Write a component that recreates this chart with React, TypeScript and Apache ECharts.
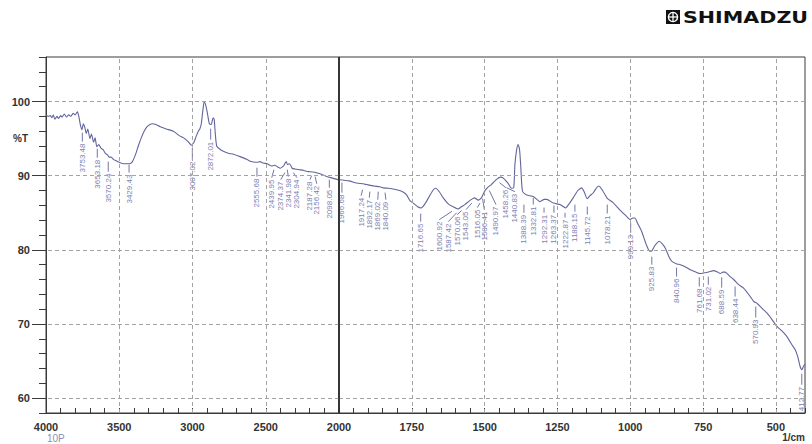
import React, { useEffect, useRef } from "react";
import * as echarts from "echarts";

// Spectrum (wavenumber in 1/cm, %T)
const wavenumbers = [
  4000, 3985, 3970, 3960, 3950, 3940, 3925, 3915, 3900, 3890, 3875, 3860, 3845, 3830, 3815, 3800, 3786, 3775, 3765, 3755,
  3745, 3735, 3725, 3715, 3700, 3690, 3675, 3665, 3653, 3640, 3625, 3610, 3595, 3580, 3570, 3555, 3540, 3520, 3500, 3470,
  3440, 3430, 3410, 3390, 3370, 3350, 3330, 3310, 3290, 3275, 3250, 3220, 3180, 3130, 3090, 3060, 3030, 3007, 2990, 2975,
  2960, 2950, 2940, 2930, 2920, 2910, 2900, 2885, 2872, 2860, 2852, 2845, 2835, 2815, 2790, 2750, 2720, 2680, 2630, 2600,
  2560, 2540, 2517, 2490, 2460, 2440, 2420, 2400, 2385, 2375, 2368, 2360, 2352, 2340, 2330, 2320, 2300, 2270, 2240, 2210,
  2180, 2154, 2120, 2085, 2050, 2013, 2000,
  1966, 1940, 1917, 1905, 1880, 1860, 1848, 1830, 1802, 1780, 1768, 1756, 1745, 1730, 1718, 1705, 1690, 1676, 1668, 1655,
  1642, 1625, 1608, 1591, 1580, 1568, 1555, 1545, 1535, 1522, 1511, 1500, 1490, 1477, 1459, 1445, 1437, 1420, 1408, 1400,
  1396, 1390, 1385, 1380, 1376, 1370, 1356, 1333, 1310, 1295, 1287, 1264, 1241, 1222, 1210, 1196, 1180, 1167, 1158, 1148,
  1138, 1127, 1115, 1108, 1095, 1078, 1060, 1036, 1015, 1001, 990, 984, 975, 961, 945, 933, 925, 915, 900, 890,
  880, 865, 857, 840, 828, 810, 794, 775, 760, 745, 731, 714, 700, 691, 682, 674, 660, 645, 628, 610,
  588, 575, 565, 555, 531, 515, 497, 480, 462, 445, 434, 425, 417, 411, 405, 400,
];
const transmittance = [
  98.2, 98.0, 98.1, 97.8, 98.2, 97.6, 98.0, 97.7, 98.1, 97.9, 98.3, 97.9, 98.2, 98.0, 98.4, 98.2, 98.6, 97.9, 96.8, 96.2,
  97.0, 96.5, 95.7, 96.3, 95.0, 95.6, 94.5, 95.1, 93.9, 94.2, 93.7, 93.5, 93.0, 92.8, 92.5, 92.5, 92.2, 92.0, 91.8, 91.6,
  91.6, 91.6, 91.9, 92.8, 94.0, 95.1, 96.0, 96.6, 96.9, 97.0, 96.9, 96.6, 96.3, 96.0, 95.4, 95.1, 94.6, 94.1, 94.5, 95.3,
  96.0, 96.3, 97.0, 98.7, 100.0, 99.5, 98.6, 97.0, 96.9, 97.8, 97.6, 95.8, 94.0, 93.6, 93.3, 93.0, 92.9, 92.6, 92.2, 91.9,
  91.8, 91.9, 91.7, 91.6, 91.3, 91.4, 91.2, 91.0, 91.2, 91.4, 91.7, 91.9, 91.5, 91.6, 91.4, 91.0, 90.9, 90.8, 90.7, 90.55,
  90.5, 90.4, 90.2, 89.9, 89.7, 89.5, 89.45,
  89.3, 89.0, 88.9, 88.8, 88.6, 88.5, 88.35, 88.3, 88.1, 87.8, 87.4, 86.6, 86.3, 85.8, 85.65, 86.2, 87.2, 88.1, 88.3, 87.8,
  87.0, 86.2, 85.8, 85.5, 85.8, 86.1, 86.5, 86.8, 87.0, 86.7, 87.0, 87.9, 88.4, 88.8, 89.5, 89.8, 89.7, 89.0, 88.3, 88.4,
  91.5, 93.5, 94.2, 93.5, 91.3, 87.9, 87.4, 87.2, 86.5, 86.8, 86.8, 86.3, 86.1, 85.65, 86.2, 87.0, 88.0, 88.35, 87.8, 86.9,
  87.3, 87.7, 88.4, 88.6, 88.0, 86.9, 86.4, 85.4, 84.6, 84.1, 84.3, 84.3, 83.6, 82.5, 80.7, 79.8, 79.9, 80.6, 81.15, 80.8,
  80.25, 78.9, 78.45, 78.1, 78.0, 77.7, 77.3, 77.0, 76.8, 76.9, 77.0, 77.2, 77.0, 76.8, 77.0, 77.0, 76.5, 76.0, 75.3, 74.8,
  73.7, 73.0, 72.8, 72.4, 71.5, 70.7, 69.7, 69.1, 68.3, 67.2, 66.55, 65.6, 64.3, 63.85, 64.3, 64.6,
];

// Peak labels: text, leader start (wn, %T) and leader end / label top (wn, %T)
const peakLabels = [
  "3753.48", "3653.18", "3570.24", "3429.43", "3007.02", "2872.01", "2555.68", "2439.95", "2374.37", "2341.98",
  "2304.94", "2187.28", "2156.42", "2098.05",
  "1966.68", "1917.24", "1892.17", "1869.02", "1840.09", "1716.65", "1600.92", "1587.42", "1570.06", "1543.05",
  "1516.05", "1506.41", "1490.97", "1458.26", "1440.83", "1388.39", "1332.81", "1292.31", "1263.37", "1222.87",
  "1188.15", "1145.72", "1078.21", "999.13", "925.83", "840.96", "761.68", "731.02", "688.59", "638.44",
  "570.93", "412.77",
];
const peakFromWn = [
  3752, 3650, 3575, 3433, 3001, 2876, 2560, 2444, 2369, 2353, 2312, 2187, 2163, 2066,
  1990, 1919, 1894, 1865, 1842, 1719.5, 1612, 1596, 1579, 1544, 1516, 1507, 1484, 1449, 1425, 1365,
  1333, 1296, 1262, 1224, 1190, 1147.5, 1079, 998.5, 926, 841, 763, 732, 686, 640, 569, 411,
];
const peakFromT = [
  95.8, 93.63, 91.89, 91.48, 93.78, 96.34, 91.08, 90.81, 90.41, 90.81, 90.41, 90.0, 89.87, 89.46,
  89.06, 88.11, 87.84, 87.84, 87.71, 84.88, 85.2, 85.0, 85.3, 86.3, 86.3, 86.9, 88.0, 89.06, 88.38, 86.1,
  87.0, 85.7, 85.97, 85.0, 86.1, 85.83, 86.1, 83.7, 79.07, 77.6, 76.3, 76.4, 76.3, 75.05, 72.35, 63.3,
];
const peakToWn = [
  3752, 3650, 3575, 3433, 3001, 2876, 2560, 2459, 2398, 2346, 2287, 2198, 2152, 2066,
  1990, 1924, 1896, 1867, 1839, 1719.5, 1655.6, 1624.7, 1594, 1564, 1525, 1501, 1461, 1427, 1396, 1365,
  1333, 1296, 1262, 1224, 1190, 1147.5, 1079, 998.5, 926, 841, 763, 732, 686, 640, 569, 411,
];
const peakToT = [
  94.6, 92.42, 90.54, 90.41, 92.16, 94.85, 89.87, 89.73, 89.46, 89.87, 89.73, 89.46, 88.92, 88.38,
  87.71, 87.3, 87.03, 86.76, 86.76, 83.8, 84.07, 83.8, 84.75, 85.42, 85.7, 85.42, 86.1, 88.38, 87.84, 85.0,
  86.1, 85.0, 85.0, 84.35, 85.15, 84.75, 84.9, 82.3, 78.0, 76.4, 75.05, 75.3, 74.9, 73.7, 70.87, 61.81,
];

const xTicksLeft = [4000, 3500, 3000, 2500, 2000];
const xTicksRight = [1750, 1500, 1250, 1000, 750, 500];
const xGridLeft = [3500, 3000, 2500];
const xGridRight = [1750, 1500, 1250, 1000, 750, 500];
const yTicks = [100, 90, 80, 70, 60];

const LINE_COLOR = "#62659c";
const LABEL_COLOR = "#7d80b2";
const AXIS_COLOR = "#3a3a3a";
const GRID_COLOR = "#a3a3a3";
const FONT = "Liberation Sans";

export default function App() {
  const ref = useRef<HTMLDivElement>(null);

  useEffect(() => {
    if (!ref.current) return;
    const chart = echarts.init(ref.current, null, { renderer: "svg" });

    const leftData: number[][] = [];
    const rightData: number[][] = [];
    wavenumbers.forEach((w, i) => {
      if (w >= 2000) leftData.push([w, transmittance[i]]);
      if (w <= 2000) rightData.push([w, transmittance[i]]);
    });

    const leftIdx: number[] = [];
    const rightIdx: number[] = [];
    peakToWn.forEach((w, i) => (w >= 2000 ? leftIdx : rightIdx).push(i));
    const peakData = (idx: number[]) =>
      idx.map((i) => [peakFromWn[i], peakFromT[i], peakToWn[i], peakToT[i], i]);

    const renderPeak = (params: any, api: any) => {
      const a = api.coord([api.value(0), api.value(1)]);
      const b = api.coord([api.value(2), api.value(3)]);
      const txt = peakLabels[api.value(4)];
      return {
        type: "group",
        children: [
          {
            type: "polyline",
            shape: { points: [a, b] },
            style: { stroke: LINE_COLOR, lineWidth: 0.9, fill: null },
          },
          {
            type: "text",
            x: b[0],
            y: b[1] + 2,
            rotation: Math.PI / 2,
            style: {
              text: txt,
              align: "right",
              verticalAlign: "middle",
              fontSize: 8,
              fontFamily: FONT,
              fill: LABEL_COLOR,
            },
          },
        ],
      };
    };

    const gridTop = 57;
    const gridHeight = 356;
    const plain = (v: number) => String(v);

    const xLabel = { margin: 8, fontSize: 11, fontWeight: "bold", fontFamily: FONT, color: "#333", formatter: plain };
    const xCommon = {
      type: "value",
      inverse: true,
      axisLine: { show: true, lineStyle: { color: AXIS_COLOR, width: 1 } },
      axisTick: { show: true, inside: true, length: 5, lineStyle: { color: AXIS_COLOR } },
      splitLine: { show: false },
    };

    const gridMark = (xs: number[]) => ({
      silent: true,
      symbol: ["none", "none"],
      label: { show: false },
      animation: false,
      lineStyle: { color: GRID_COLOR, type: [4, 3], width: 1 },
      data: [...xs.map((v) => ({ xAxis: v })), ...yTicks.map((v) => ({ yAxis: v }))],
    });

    const option: any = {
      animation: false,
      grid: [
        { left: 46, top: gridTop, width: 293, height: gridHeight, show: true, borderColor: AXIS_COLOR, borderWidth: 1 },
        { left: 339, top: gridTop, width: 466, height: gridHeight, show: true, borderColor: AXIS_COLOR, borderWidth: 1 },
      ],
      xAxis: [
        {
          ...xCommon,
          gridIndex: 0,
          min: 2000,
          max: 4000,
          interval: 100,
          axisLabel: { ...xLabel, customValues: xTicksLeft },
        },
        {
          ...xCommon,
          gridIndex: 1,
          min: 400,
          max: 2000,
          interval: 50,
          axisLabel: { ...xLabel, customValues: xTicksRight },
        },
      ],
      yAxis: [
        {
          type: "value",
          gridIndex: 0,
          position: "left",
          min: 58,
          max: 106,
          interval: 2,
          axisLine: { show: true, lineStyle: { color: AXIS_COLOR } },
          axisTick: { show: true, inside: false, length: 7, lineStyle: { color: AXIS_COLOR } },
          axisLabel: { show: false },
          splitLine: { show: false },
        },
        {
          type: "value",
          gridIndex: 0,
          position: "left",
          offset: 0,
          min: 58,
          max: 106,
          axisLine: { show: false },
          axisTick: { show: true, inside: false, length: 14, customValues: yTicks, lineStyle: { color: AXIS_COLOR } },
          axisLabel: {
            show: true,
            customValues: yTicks,
            margin: 16,
            fontSize: 11,
            fontWeight: "bold",
            fontFamily: FONT,
            color: "#333",
            formatter: plain,
          },
          splitLine: { show: false },
        },
        {
          type: "value",
          gridIndex: 1,
          min: 58,
          max: 106,
          show: false,
        },
      ],
      series: [
        {
          type: "line",
          xAxisIndex: 0,
          yAxisIndex: 0,
          data: [],
          z: 1,
          markLine: gridMark(xGridLeft),
        },
        {
          type: "line",
          xAxisIndex: 1,
          yAxisIndex: 2,
          data: [],
          z: 1,
          markLine: gridMark(xGridRight),
        },
        {
          type: "line",
          xAxisIndex: 0,
          yAxisIndex: 0,
          data: leftData,
          showSymbol: false,
          symbol: "none",
          smooth: 0.2,
          z: 3,
          lineStyle: { color: LINE_COLOR, width: 1.1 },
        },
        {
          type: "line",
          xAxisIndex: 1,
          yAxisIndex: 2,
          data: rightData,
          showSymbol: false,
          symbol: "none",
          smooth: 0.2,
          z: 3,
          lineStyle: { color: LINE_COLOR, width: 1.1 },
        },
        {
          type: "custom",
          xAxisIndex: 0,
          yAxisIndex: 0,
          data: peakData(leftIdx),
          encode: { x: [0, 2], y: [1, 3] },
          renderItem: renderPeak,
          clip: false,
          silent: true,
          z: 4,
        },
        {
          type: "custom",
          xAxisIndex: 1,
          yAxisIndex: 2,
          data: peakData(rightIdx),
          encode: { x: [0, 2], y: [1, 3] },
          renderItem: renderPeak,
          clip: false,
          silent: true,
          z: 4,
        },
      ],
      graphic: [
        {
          type: "line",
          shape: { x1: 339, y1: gridTop, x2: 339, y2: gridTop + gridHeight },
          style: { stroke: "#2a2a2a", lineWidth: 1.6 },
          z: 10,
        },
        {
          type: "text",
          x: 13,
          y: 138,
          style: { text: "%T", fontSize: 10, fontWeight: "bold", fontFamily: FONT, fill: "#333", verticalAlign: "middle" },
        },
        {
          type: "text",
          x: 47,
          y: 433,
          style: { text: "10P", fontSize: 10, fontFamily: FONT, fill: "#8a8fbb" },
        },
        {
          type: "text",
          x: 805,
          y: 432,
          style: { text: "1/cm", fontSize: 10, fontWeight: "bold", fontFamily: FONT, fill: "#333", align: "right" },
        },
        {
          type: "group",
          x: 666,
          y: 10,
          children: [
            { type: "rect", shape: { x: 0, y: 0, width: 14, height: 14 }, style: { fill: "#111" } },
            { type: "circle", shape: { cx: 7, cy: 7, r: 4.6 }, style: { fill: null, stroke: "#fff", lineWidth: 1.4 } },
            { type: "line", shape: { x1: 7, y1: 2.4, x2: 7, y2: 11.6 }, style: { stroke: "#fff", lineWidth: 1.3 } },
            { type: "line", shape: { x1: 2.4, y1: 7, x2: 11.6, y2: 7 }, style: { stroke: "#fff", lineWidth: 1.3 } },
          ],
        },
        {
          type: "text",
          x: 683,
          y: 17,
          scaleX: 1.29,
          style: {
            text: "SHIMADZU",
            fontSize: 16,
            fontWeight: "bold",
            fontFamily: "DejaVu Sans",
            fill: "#111",
            verticalAlign: "middle",
          },
        },
      ],
    };

    chart.setOption(option);
    return () => chart.dispose();
  }, []);

  return <div ref={ref} style={{ position: "absolute", left: 0, top: 0, width: 812, height: 444 }} />;
}
